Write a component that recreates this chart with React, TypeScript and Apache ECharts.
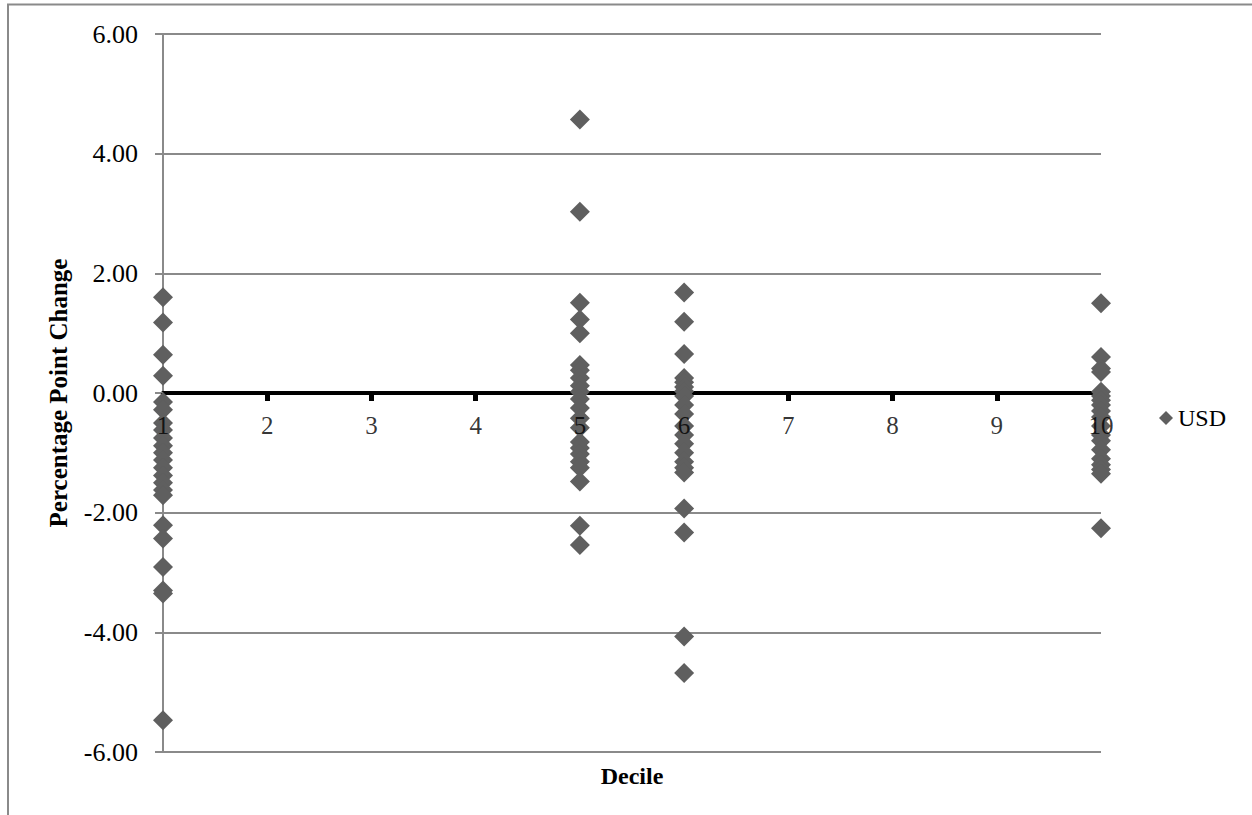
import React, { useEffect, useRef } from "react";
import * as echarts from "echarts";

const deciles = [1, 5, 6, 10];
const decile1 = [1.6, 1.18, 0.64, 0.29, -0.15, -0.28, -0.5, -0.62, -0.75, -0.88, -1.0, -1.12, -1.25, -1.38, -1.5, -1.62, -1.71, -2.21, -2.43, -2.91, -3.3, -3.35, -5.47];
const decile5 = [4.57, 3.03, 1.51, 1.23, 1.0, 0.47, 0.38, 0.25, 0.12, 0.02, -0.1, -0.25, -0.42, -0.58, -0.82, -0.92, -1.02, -1.15, -1.25, -1.48, -2.22, -2.54];
const decile6 = [1.68, 1.19, 0.65, 0.25, 0.18, 0.1, 0.03, -0.05, -0.2, -0.35, -0.55, -0.7, -0.85, -1.0, -1.15, -1.25, -1.33, -1.93, -2.33, -4.07, -4.68];
const decile10 = [1.5, 0.6, 0.41, 0.35, 0.02, -0.05, -0.12, -0.2, -0.3, -0.4, -0.55, -0.7, -0.8, -0.95, -1.1, -1.2, -1.28, -1.35, -2.26];
const xTickLabels = [1, 2, 3, 4, 5, 6, 7, 8, 9, 10];
const seriesName = "USD";
const xTitle = "Decile";
const yTitle = "Percentage Point Change";

const FONT = "'Liberation Serif', 'DejaVu Serif', serif";

export default function App() {
  const ref = useRef<HTMLDivElement>(null);
  useEffect(() => {
    if (!ref.current) return;
    const chart = echarts.init(ref.current, undefined, { renderer: "svg" });
    const groups = [decile1, decile5, decile6, decile10];
    const data: number[][] = [];
    groups.forEach((vals, i) => vals.forEach((v) => data.push([deciles[i], v])));
    chart.setOption({
      animation: false,
      backgroundColor: "#ffffff",
      grid: { left: 163, right: 151, top: 34, bottom: 63 },
      graphic: [
        {
          type: "rect",
          shape: { x: 8, y: 4.5, width: 1400, height: 1000 },
          style: { fill: "none", stroke: "#8a8a8a", lineWidth: 2 },
          silent: true,
        },
        {
          type: "text",
          x: 632,
          y: 776,
          style: {
            text: xTitle,
            font: `bold 24px ${FONT}`,
            fill: "#000",
            textAlign: "center",
            textVerticalAlign: "middle",
          },
        },
      ],
      legend: {
        show: true,
        left: 1154,
        top: 401,
        icon: "diamond",
        itemWidth: 14,
        itemHeight: 14,
        itemGap: 6,
        textStyle: { fontFamily: FONT, fontSize: 24, color: "#000" },
        data: [seriesName],
      },
      xAxis: {
        type: "value",
        min: 1,
        max: 10,
        interval: 1,
        z: 0,
        axisLine: { show: true, onZero: true, lineStyle: { color: "#000", width: 4 } },
        axisTick: { show: true, inside: false, length: 8, lineStyle: { color: "#000", width: 5 } },
        axisLabel: { show: false },
        splitLine: { show: false },
      },
      yAxis: {
        type: "value",
        min: -6,
        max: 6,
        interval: 2,
        axisLine: { show: true, lineStyle: { color: "#8a8a8a", width: 2 } },
        axisTick: { show: true, inside: false, length: 8, lineStyle: { color: "#8a8a8a", width: 2 } },
        axisLabel: {
          margin: 25,
          fontFamily: FONT,
          fontSize: 26,
          color: "#000",
          formatter: (v: number) => v.toFixed(2),
        },
        splitLine: { show: true, lineStyle: { color: "#8a8a8a", width: 2 } },
        name: yTitle,
        nameLocation: "middle",
        nameGap: 92,
        nameTextStyle: { fontFamily: FONT, fontSize: 25, fontWeight: "bold", color: "#000" },
      },
      series: [
        {
          name: seriesName,
          type: "scatter",
          symbol: "diamond",
          symbolSize: 20,
          itemStyle: { color: "#5f5f5f", opacity: 1 },
          data,
          z: 2,
        },
        {
          name: "xTickLabels",
          type: "scatter",
          symbol: "circle",
          symbolSize: 1,
          silent: true,
          itemStyle: { color: "rgba(0,0,0,0)" },
          data: xTickLabels.map((v) => [v, 0]),
          z: 10,
          label: {
            show: true,
            position: "bottom",
            distance: 19,
            fontFamily: FONT,
            fontSize: 25,
            color: "#000",
            formatter: (p: any) => String(p.value[0]),
          },
          labelLayout: { hideOverlap: false },
        },
      ],
    });
    return () => chart.dispose();
  }, []);
  return (
    <div
      ref={ref}
      style={{ position: "absolute", left: 0, top: 0, width: 1252, height: 815 }}
    />
  );
}
